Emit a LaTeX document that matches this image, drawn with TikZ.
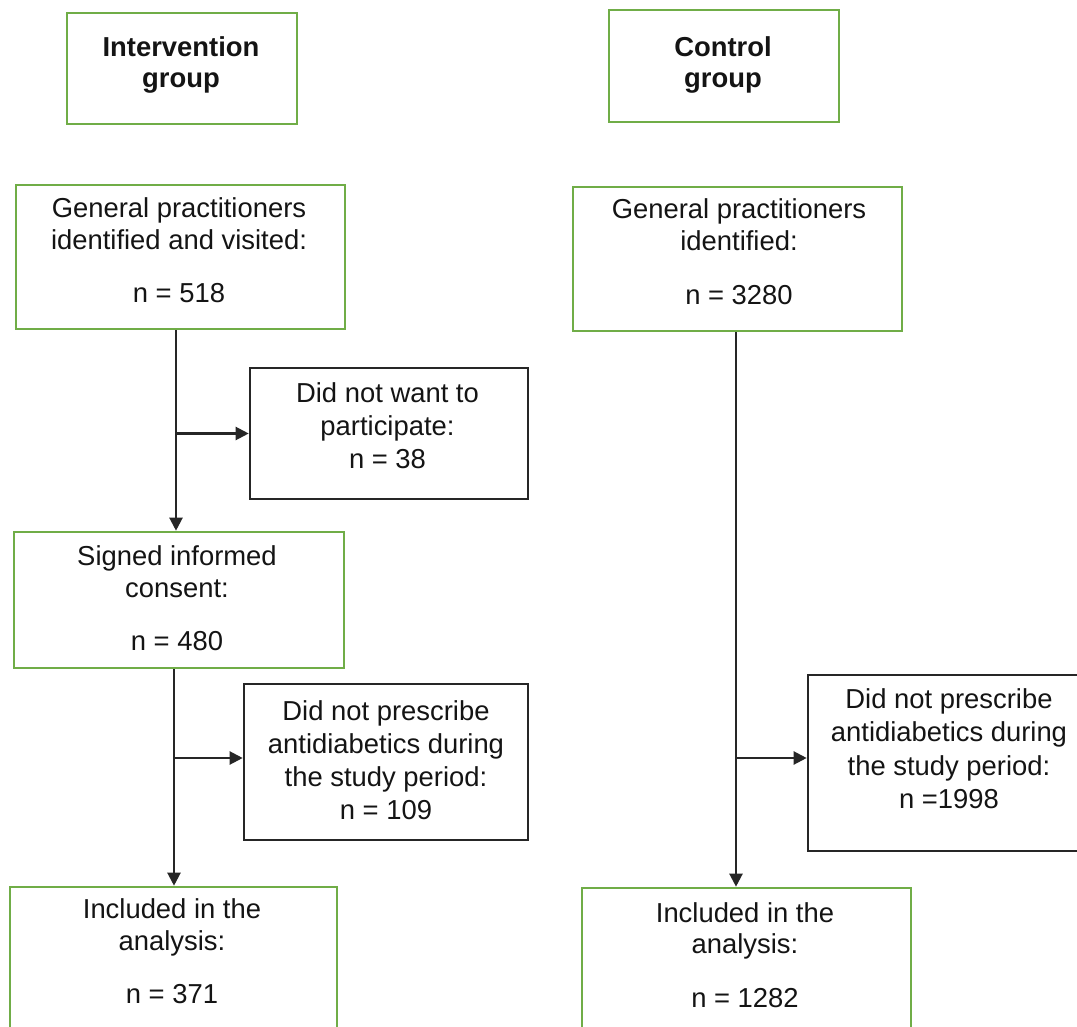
\documentclass[tikz,border=0pt]{standalone}
\usepackage{fontspec}
\setmainfont{Liberation Sans}
\usetikzlibrary{arrows.meta}
\definecolor{boxgreen}{RGB}{112,173,71}
\definecolor{boxdark}{RGB}{38,38,38}
\definecolor{txt}{RGB}{20,20,20}
\begin{document}
\begin{tikzpicture}[x=1pt,y=-1pt,
  gbox/.style={draw=boxgreen,line width=2.6pt,rectangle,inner sep=0pt},
  kbox/.style={draw=boxdark,line width=2.6pt,rectangle,inner sep=0pt},
  lbl/.style={anchor=base,inner sep=0pt,font=\fontsize{27.4}{31}\selectfont,text=txt},
  blbl/.style={lbl,font=\fontsize{27.4}{31}\selectfont\bfseries},
  conn/.style={draw=boxdark,line width=2.2pt},
  arr/.style={conn,-{Triangle[length=13pt,width=13pt]}}]
\useasboundingbox (0,0) rectangle (1077,1027);
\clip (0,0) rectangle (1077,1027);
\fill[white] (0,0) rectangle (1077,1027);

% boxes
\node[gbox,minimum width=230pt,minimum height=111pt] (ig) at (182,68.5) {};
\node[gbox,minimum width=230pt,minimum height=112pt] (cg) at (724,66) {};
\node[gbox,minimum width=329pt,minimum height=144pt] (gpi) at (180.5,257) {};
\node[gbox,minimum width=329pt,minimum height=144pt] (gpc) at (737.5,259) {};
\node[kbox,minimum width=278pt,minimum height=131pt] (dnw) at (389,433.5) {};
\node[gbox,minimum width=330pt,minimum height=136pt] (sic) at (179,600) {};
\node[kbox,minimum width=284pt,minimum height=156pt] (dnpi) at (386,762) {};
\node[kbox,minimum width=282pt,minimum height=176pt] (dnpc) at (949,763) {};
\node[gbox,minimum width=327pt,minimum height=153pt] (inci) at (173.5,963.5) {};
\node[gbox,minimum width=329pt,minimum height=152pt] (incc) at (746.5,964) {};

% texts
\node[blbl] (ig1) at (181,57) {Intervention};
\node[blbl] (ig2) at (181,88) {group};
\node[blbl] (cg1) at (723,57) {Control};
\node[blbl] (cg2) at (723,88) {group};

\node[lbl] (gpi1) at (179,218) {General practitioners};
\node[lbl] (gpi2) at (179,250) {identified and visited:};
\node[lbl] (gpi3) at (179,303) {n = 518};

\node[lbl] (gpc1) at (739,219) {General practitioners};
\node[lbl] (gpc2) at (739,251) {identified:};
\node[lbl] (gpc3) at (739,305) {n = 3280};

\node[lbl] (dnw1) at (387.5,402) {Did not want to};
\node[lbl] (dnw2) at (387.5,435) {participate:};
\node[lbl] (dnw3) at (387.5,468) {n = 38};

\node[lbl] (sic1) at (177,565) {Signed informed};
\node[lbl] (sic2) at (177,597) {consent:};
\node[lbl] (sic3) at (177,650) {n = 480};

\node[lbl] (dnpi1) at (386,720) {Did not prescribe};
\node[lbl] (dnpi2) at (386,753) {antidiabetics during};
\node[lbl] (dnpi3) at (386,786) {the study period:};
\node[lbl] (dnpi4) at (386,819) {n = 109};

\node[lbl] (dnpc1) at (949,708) {Did not prescribe};
\node[lbl] (dnpc2) at (949,741) {antidiabetics during};
\node[lbl] (dnpc3) at (949,775) {the study period:};
\node[lbl] (dnpc4) at (949,808) {n =1998};

\node[lbl] (inci1) at (172,918) {Included in the};
\node[lbl] (inci2) at (172,950) {analysis:};
\node[lbl] (inci3) at (172,1003) {n = 371};

\node[lbl] (incc1) at (745,922) {Included in the};
\node[lbl] (incc2) at (745,953) {analysis:};
\node[lbl] (incc3) at (745,1007) {n = 1282};

% connectors
\coordinate (xa) at (176,0);
\coordinate (xb) at (174,0);
\coordinate (xc) at (736,0);
\coordinate (ei) at ([yshift=4pt]dnpi.west);
\coordinate (ec) at ([yshift=5pt]dnpc.west);
\draw[arr] (xa |- gpi.south) -- (xa |- sic.north);
\draw[arr] (xa |- dnw.west) -- (dnw.west);
\draw[arr] (xb |- sic.south) -- (xb |- inci.north);
\draw[arr] (xb |- ei) -- (ei);
\draw[arr] (xc |- gpc.south) -- (xc |- incc.north);
\draw[arr] (xc |- ec) -- (ec);
\end{tikzpicture}
\end{document}
